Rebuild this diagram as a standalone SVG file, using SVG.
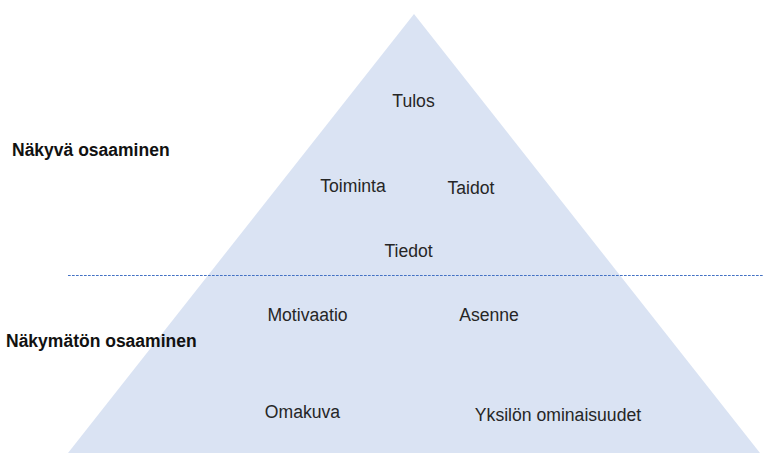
<svg xmlns="http://www.w3.org/2000/svg" width="764" height="453" viewBox="0 0 764 453">
  <style>
    .lbl { font-family: "Liberation Sans", Arial, sans-serif; font-size: 17.6px; fill: #262626; text-anchor: middle; }
    .side { font-family: "Liberation Sans", Arial, sans-serif; font-size: 17.5px; font-weight: bold; fill: #111111; }
    .divider { stroke: #4472C4; stroke-width: 1; stroke-dasharray: 2.7 1.3; fill: none; }
  </style>
  <rect width="764" height="453" fill="#ffffff"/>

  <!-- competence pyramid -->
  <g id="pyramid">
    <polygon points="414,14 760,453 68,453" fill="#DAE3F3"/>
  </g>

  <!-- boundary between visible and hidden competence -->
  <g id="connectors">
    <line class="divider" x1="68" y1="275.5" x2="764" y2="275.5"/>
  </g>

  <g id="label-visible"><text class="side" x="12" y="156">Näkyvä osaaminen</text></g>
  <g id="label-hidden"><text class="side" x="6" y="347">Näkymätön osaaminen</text></g>

  <g id="tulos"><text class="lbl" x="413.5" y="107">Tulos</text></g>
  <g id="toiminta"><text class="lbl" x="353" y="192">Toiminta</text></g>
  <g id="taidot"><text class="lbl" x="471" y="194">Taidot</text></g>
  <g id="tiedot"><text class="lbl" x="408.5" y="257">Tiedot</text></g>
  <g id="motivaatio"><text class="lbl" x="307.5" y="321">Motivaatio</text></g>
  <g id="asenne"><text class="lbl" x="489" y="321">Asenne</text></g>
  <g id="omakuva"><text class="lbl" x="302.5" y="418">Omakuva</text></g>
  <g id="yksilon-ominaisuudet"><text class="lbl" x="558" y="421">Yksilön ominaisuudet</text></g>
</svg>
